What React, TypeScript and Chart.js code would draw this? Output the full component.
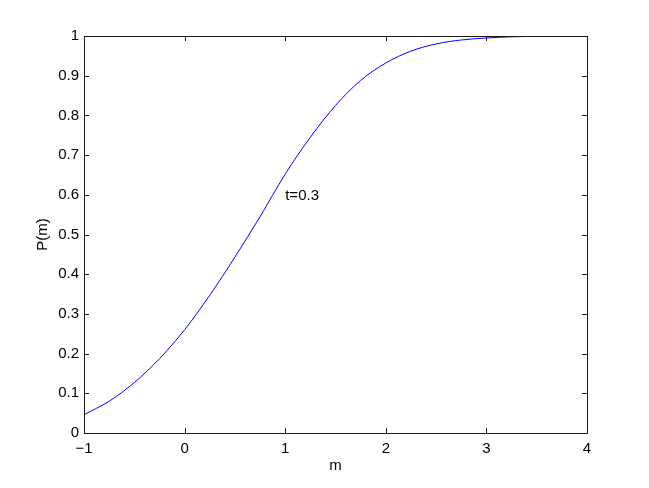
import React, { useEffect, useRef } from "react";
import { Chart, registerables } from "chart.js";

Chart.register(...registerables);

const mValues = [-1, -0.75, -0.5, -0.25, 0, 0.25, 0.5, 0.75, 1, 1.25, 1.5, 1.75, 2, 2.25, 2.5, 2.75, 3, 3.25, 3.5, 3.75, 4];
const pValues = [0.046, 0.08, 0.127, 0.187, 0.26, 0.347, 0.443, 0.545, 0.652, 0.745, 0.825, 0.888, 0.932, 0.962, 0.98, 0.99, 0.995, 0.998, 0.999, 1.0, 1.0];
const xTickValues = [-1, 0, 1, 2, 3, 4];
const xTickLabels = ["\u22121", "0", "1", "2", "3", "4"];
const yTickValues = [0, 0.1, 0.2, 0.3, 0.4, 0.5, 0.6, 0.7, 0.8, 0.9, 1];
const yTickLabels = ["0", "0.1", "0.2", "0.3", "0.4", "0.5", "0.6", "0.7", "0.8", "0.9", "1"];
const annotationText = "t=0.3";
const annotationX = 1.0;
const annotationY = 0.587;
const xTitle = "m";
const yTitle = "P(m)";

const FONT = "'Liberation Sans', Arial, Helvetica, sans-serif";

const framePlugin = {
  id: "frame",
  afterDraw(chart: any) {
    const { ctx, chartArea, scales } = chart;
    const { left, right, top, bottom } = chartArea;
    const xs = scales.x;
    const ys = scales.y;
    ctx.save();
    ctx.strokeStyle = "#1a1a1a";
    ctx.lineWidth = 1;
    ctx.beginPath();
    ctx.rect(Math.round(left) + 0.5, Math.round(top) + 0.5, Math.round(right - left), Math.round(bottom - top));
    ctx.stroke();
    const tl = 5;
    ctx.beginPath();
    xTickValues.forEach((v) => {
      const px = Math.round(xs.getPixelForValue(v)) + 0.5;
      ctx.moveTo(px, bottom);
      ctx.lineTo(px, bottom - tl);
      ctx.moveTo(px, top);
      ctx.lineTo(px, top + tl);
    });
    yTickValues.forEach((v) => {
      const py = Math.round(ys.getPixelForValue(v)) + 0.5;
      ctx.moveTo(left, py);
      ctx.lineTo(left + tl, py);
      ctx.moveTo(right, py);
      ctx.lineTo(right - tl, py);
    });
    ctx.stroke();

    ctx.fillStyle = "#000";
    ctx.font = `15px ${FONT}`;
    ctx.textAlign = "left";
    ctx.textBaseline = "alphabetic";
    ctx.fillText(annotationText, xs.getPixelForValue(annotationX), ys.getPixelForValue(annotationY));

    ctx.textAlign = "center";
    ctx.fillText(xTitle, (left + right) / 2, bottom + 37);

    ctx.translate(left - 37, (top + bottom) / 2);
    ctx.rotate(-Math.PI / 2);
    ctx.fillText(yTitle, 0, 0);
    ctx.restore();
  },
};

export default function App() {
  const ref = useRef<HTMLCanvasElement | null>(null);
  useEffect(() => {
    document.body.style.margin = "0";
    const canvas = ref.current!;
    const chart = new Chart(canvas, {
      type: "line",
      data: {
        datasets: [
          {
            data: mValues.map((m, i) => ({ x: m, y: pValues[i] })),
            borderColor: "#0000ff",
            borderWidth: 1,
            pointRadius: 0,
            cubicInterpolationMode: "monotone",
            fill: false,
          },
        ],
      },
      options: {
        animation: false,
        responsive: false,
        maintainAspectRatio: false,
        layout: { padding: { top: 36, right: 62, left: 0, bottom: 0 } },
        plugins: { legend: { display: false }, tooltip: { enabled: false } },
        scales: {
          x: {
            type: "linear",
            min: -1,
            max: 4,
            afterFit: (s: any) => {
              s.height = 55;
            },
            afterBuildTicks: (s: any) => {
              s.ticks = xTickValues.map((v) => ({ value: v }));
            },
            grid: { display: false, drawTicks: false },
            border: { display: false },
            ticks: {
              padding: 7,
              color: "#000",
              font: { family: FONT, size: 15 },
              maxRotation: 0,
              callback: (v: any) => {
                const i = xTickValues.indexOf(Number(v));
                return i >= 0 ? xTickLabels[i] : "";
              },
            },
          },
          y: {
            type: "linear",
            min: 0,
            max: 1,
            afterFit: (s: any) => {
              s.width = 84;
            },
            afterBuildTicks: (s: any) => {
              s.ticks = yTickValues.map((v) => ({ value: v }));
            },
            grid: { display: false, drawTicks: false },
            border: { display: false },
            ticks: {
              padding: 5,
              color: "#000",
              font: { family: FONT, size: 15 },
              callback: (v: any) => {
                const i = yTickValues.findIndex((t) => Math.abs(t - Number(v)) < 1e-9);
                return i >= 0 ? yTickLabels[i] : "";
              },
            },
          },
        },
      },
      plugins: [framePlugin],
    } as any);
    return () => chart.destroy();
  }, []);
  return (
    <div style={{ position: "absolute", left: 0, top: 0, width: 649, height: 488, background: "#fff" }}>
      <canvas ref={ref} width={649} height={488} style={{ width: 649, height: 488, display: "block" }} />
    </div>
  );
}
